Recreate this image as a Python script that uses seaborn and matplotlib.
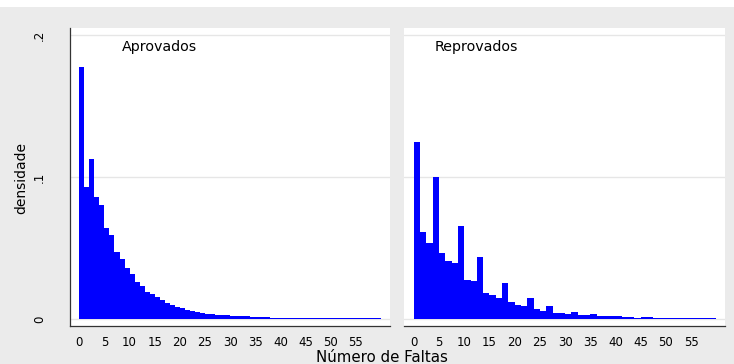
import numpy as np
import pandas as pd
import matplotlib
matplotlib.use("Agg")
import matplotlib.pyplot as plt
import seaborn as sns
from matplotlib.patches import Rectangle

# histogram densities (Stata style, two groups)
aprov_edges = np.arange(0, 61, 1.0)          # 60 bins of width 1
aprov_dens = [0.1778, 0.0927, 0.1124, 0.0857, 0.0803, 0.0638, 0.0592, 0.0474,
              0.0423, 0.0357, 0.0315, 0.0263, 0.0232, 0.0192, 0.0175, 0.0153,
              0.0132, 0.0112, 0.0100, 0.0087, 0.0076, 0.0066, 0.0056, 0.0049,
              0.0042, 0.0038, 0.0033, 0.0031, 0.0028, 0.0026, 0.0023, 0.0021,
              0.0019, 0.0019, 0.0016, 0.0015, 0.0014, 0.0013, 0.0007, 0.0006,
              0.0006, 0.0006, 0.0006, 0.0006, 0.0006, 0.0006, 0.0006, 0.0006,
              0.0006, 0.0006, 0.0006, 0.0006, 0.0006, 0.0006, 0.0006, 0.0006,
              0.0006, 0.0006, 0.0006, 0.0006]

reprov_edges = np.linspace(0, 60, 49)        # 48 bins of width 1.25
reprov_dens = [0.1249, 0.0610, 0.0533, 0.0998, 0.0467, 0.0408, 0.0394, 0.0655,
               0.0275, 0.0265, 0.0439, 0.0181, 0.0169, 0.0150, 0.0255, 0.0117,
               0.0101, 0.0089, 0.0149, 0.0067, 0.0056, 0.0090, 0.0043, 0.0039,
               0.0038, 0.0052, 0.0026, 0.0026, 0.0034, 0.0021, 0.0019, 0.0018,
               0.0020, 0.0010, 0.0010, 0.0009, 0.0015, 0.0011, 0.0006, 0.0006,
               0.0006, 0.0006, 0.0006, 0.0006, 0.0006, 0.0006, 0.0006, 0.0006]

groups = ["Aprovados", "Reprovados"]
xticks = list(range(0, 60, 5))
yticks = [0, 0.1, 0.2]
ytick_labels = ["0", ".1", ".2"]

sns.set_style("white")
plt.rcParams['font.family'] = ['DejaVu Sans']

bg = '#ebebeb'
fig = plt.figure(figsize=(7.34, 3.64), dpi=100, facecolor=bg)
fig.patches.append(Rectangle((0, 357 / 364), 1, 7 / 364, transform=fig.transFigure,
                             facecolor='white', edgecolor='none', zorder=0))

W, H = 734, 364
ax1 = fig.add_axes([69.5 / W, 38 / H, 320 / W, 298 / H])
ax2 = fig.add_axes([404 / W, 38 / H, 321 / W, 298 / H], sharey=ax1)

data = [(aprov_edges, aprov_dens), (reprov_edges, reprov_dens)]
for ax, (edges, dens), name in zip([ax1, ax2], data, groups):
    df = pd.DataFrame({'faltas': (edges[:-1] + edges[1:]) / 2, 'dens': dens})
    sns.histplot(data=df, x='faltas', weights='dens', bins=list(edges), stat='count',
                 ax=ax, color='#0000ff', edgecolor='none', linewidth=0, alpha=1,
                 zorder=3)
    ax.set_facecolor('white')
    for y in yticks:
        ax.axhline(y, color='#e6e6e6', lw=1.0, zorder=1)
    ax.set_xlim(-1.95, 61.7)
    ax.set_ylim(-0.005, 0.205)
    ax.set_xticks(xticks)
    ax.tick_params(axis='x', direction='out', length=4, width=0.8, color='#333333',
                   labelsize=8.5, labelcolor='black', pad=3.5)
    ax.set_xlabel('')
    ax.set_ylabel('')
    ax.text(8.4 if name == "Aprovados" else 4.2, 0.1915, name, fontsize=10.3,
            va='center', ha='left', color='black')
    for s in ['top', 'right']:
        ax.spines[s].set_visible(False)
    ax.spines['bottom'].set_color('#333333')
    ax.spines['bottom'].set_linewidth(0.9)

ax1.set_yticks(yticks)
ax1.set_yticklabels(ytick_labels, rotation=90, va='center')
ax1.tick_params(axis='y', direction='out', length=7, width=0.8, color='#333333',
                labelsize=8.5, labelcolor='black', pad=10)
ax1.spines['left'].set_color('#333333')
ax1.spines['left'].set_linewidth(0.9)

ax2.spines['left'].set_visible(False)
ax2.tick_params(axis='y', left=False, labelleft=False)

fig.text(21 / W, 1 - 178 / H, 'densidade', rotation=90, ha='center', va='center',
         fontsize=10, color='black')
fig.text(382 / W, 1 - 357 / H, 'Número de Faltas', ha='center', va='center',
         fontsize=10.8, color='black')

fig.savefig('out.png', dpi=100, facecolor=bg)
